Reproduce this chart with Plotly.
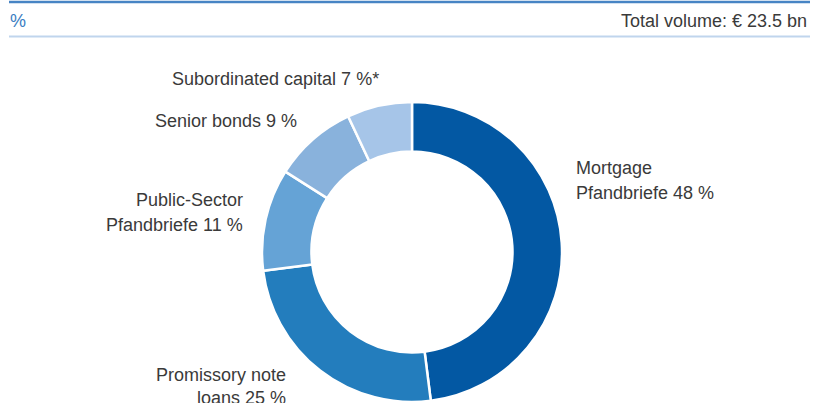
import plotly.graph_objects as go

W, H = 813, 403

labels = [
    "Mortgage Pfandbriefe",
    "Promissory note loans",
    "Public-Sector Pfandbriefe",
    "Senior bonds",
    "Subordinated capital",
]
shares = [48, 25, 11, 9, 7]
colors = ["#0358a3", "#237dbd", "#65a3d6", "#89b2dc", "#a6c5e8"]

# label lines: (text, x px, y px, anchor)
label_lines = [
    ("Mortgage", 574, 168, "left"),
    ("Pfandbriefe 48 %", 574, 193, "left"),
    ("Promissory note", 288, 375, "right"),
    ("loans 25 %", 288, 398, "right"),
    ("Public-Sector", 245, 200, "right"),
    ("Pfandbriefe 11 %", 245, 225, "right"),
    ("Senior bonds 9 %", 299, 121, "right"),
    ("Subordinated capital 7 %*", 381, 79, "right"),
]

TXT = "#3a3a3a"
FONT = "Liberation Sans, Arial, sans-serif"
FS = 18


def px(x):
    return x / W


def py(y):
    return 1 - y / H


cx, cy, r = 412, 252, 150

fig = go.Figure(
    go.Pie(
        labels=labels,
        values=shares,
        sort=False,
        direction="clockwise",
        rotation=0,
        hole=0.67,
        marker=dict(colors=colors, line=dict(color="white", width=2.5)),
        textinfo="none",
        hoverinfo="label+percent",
        domain=dict(x=[px(cx - r), px(cx + r)], y=[py(cy + r), py(cy - r)]),
        showlegend=False,
    )
)

annotations = [
    dict(text="%", x=px(8), y=py(21), xanchor="left", yanchor="middle",
         font=dict(size=FS, color="#3a7dc2")),
    dict(text="Total volume: € 23.5 bn", x=px(809), y=py(21), xanchor="right",
         yanchor="middle", font=dict(size=FS, color=TXT)),
]
for text, x, y, anchor in label_lines:
    annotations.append(
        dict(text=text, x=px(x), y=py(y), xanchor=anchor, yanchor="middle",
             font=dict(size=FS, color=TXT))
    )
for a in annotations:
    a.update(xref="paper", yref="paper", showarrow=False)

fig.update_layout(
    width=W,
    height=H,
    margin=dict(l=0, r=0, t=0, b=0),
    paper_bgcolor="white",
    plot_bgcolor="white",
    font=dict(family=FONT, size=FS, color=TXT),
    annotations=annotations,
    shapes=[
        dict(type="line", xref="paper", yref="paper", x0=px(9), x1=px(810),
             y0=py(2), y1=py(2), line=dict(color="#4784c4", width=2.5)),
        dict(type="line", xref="paper", yref="paper", x0=px(9), x1=px(810),
             y0=py(36.5), y1=py(36.5), line=dict(color="#c0d5ed", width=2)),
    ],
)

fig.write_html(
    "out.html",
    config={"displayModeBar": False},
    post_script="document.body.style.margin='0';document.body.style.overflow='hidden';",
)
